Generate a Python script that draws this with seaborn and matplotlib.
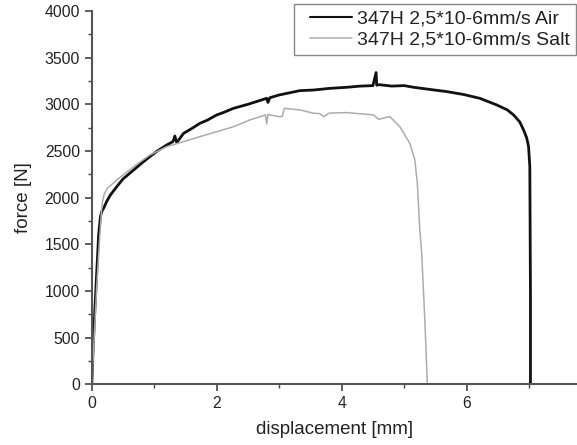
import matplotlib
matplotlib.use("Agg")
import matplotlib.pyplot as plt
import seaborn as sns
import pandas as pd
from matplotlib.ticker import MultipleLocator
from matplotlib.lines import Line2D
from matplotlib.legend_handler import HandlerLine2D

air_x = [0, 0.02, 0.05, 0.08, 0.11, 0.14, 0.16, 0.2, 0.24, 0.3, 0.4, 0.5, 0.67, 0.8,
         0.93, 1.05, 1.2, 1.3, 1.33, 1.36, 1.47, 1.6, 1.73, 1.85, 2.0, 2.1, 2.27, 2.5,
         2.8, 2.82, 2.85, 3.0, 3.33, 3.55, 3.8, 4.08, 4.3, 4.5, 4.55, 4.56, 4.6, 4.8,
         5.0, 5.15, 5.4, 5.68, 5.95, 6.21, 6.48, 6.65, 6.75, 6.85, 6.91, 6.96, 6.99,
         7.01, 7.02, 7.02]
air_y = [0, 350, 800, 1200, 1600, 1800, 1850, 1900, 1960, 2030, 2117, 2200, 2296, 2370,
         2439, 2500, 2564, 2600, 2660, 2590, 2689, 2740, 2796, 2830, 2886, 2910, 2957, 3000,
         3064, 3020, 3070, 3100, 3146, 3153, 3170, 3182, 3195, 3200, 3340, 3205, 3210, 3195,
         3200, 3182, 3160, 3136, 3105, 3064, 2993, 2940, 2886, 2810, 2725, 2640, 2546,
         2332, 1000, 0]

salt_x = [0, 0.02, 0.05, 0.08, 0.12, 0.15, 0.17, 0.2, 0.25, 0.4, 0.67, 0.93, 1.2, 1.47,
          1.73, 2.0, 2.27, 2.53, 2.78, 2.80, 2.82, 2.99, 3.05, 3.08, 3.33, 3.55, 3.65, 3.71,
          3.8, 4.08, 4.51, 4.59, 4.77, 4.93, 5.09, 5.17, 5.21, 5.25, 5.28, 5.33, 5.37]
salt_y = [0, 250, 650, 1050, 1500, 1800, 1950, 2040, 2100, 2189, 2332, 2457, 2546, 2600,
          2653, 2707, 2760, 2832, 2886, 2790, 2890, 2868, 2870, 2957, 2940, 2904, 2900, 2868,
          2905, 2911, 2886, 2839, 2868, 2760, 2582, 2403, 2154, 1653, 1403, 689, 0]

labels = ["347H 2,5*10-6mm/s Air", "347H 2,5*10-6mm/s Salt"]

df = pd.concat([
    pd.DataFrame({"x": air_x, "y": air_y, "series": labels[0]}),
    pd.DataFrame({"x": salt_x, "y": salt_y, "series": labels[1]}),
], ignore_index=True)

sns.set_style("ticks")
plt.rcParams['font.family'] = ['Liberation Sans', 'DejaVu Sans']

fig = plt.figure(figsize=(5.77, 4.45), dpi=100)
ax = fig.add_axes([0.159, 0.1364, 0.841, 0.839])

sns.lineplot(data=df, x="x", y="y", hue="series", sort=False, estimator=None,
             palette={labels[0]: "#111111", labels[1]: "#acacac"}, ax=ax, legend=False)
lines = ax.get_lines()
lines[0].set_linewidth(2.0)
lines[1].set_linewidth(1.1)

ax.set_xlim(0, 7.765)
ax.set_ylim(0, 4000)
ax.xaxis.set_major_locator(MultipleLocator(2))
ax.xaxis.set_minor_locator(MultipleLocator(1))
ax.yaxis.set_major_locator(MultipleLocator(500))
ax.yaxis.set_minor_locator(MultipleLocator(250))
ax.tick_params(which="major", direction="out", length=5, width=1.2, colors="#444444",
               labelsize=11.3, labelcolor="#222222")
ax.tick_params(which="minor", direction="out", length=3, width=1.0, colors="#444444")
for s in ["top", "right"]:
    ax.spines[s].set_visible(False)
for s in ["left", "bottom"]:
    ax.spines[s].set_color("#555555")
    ax.spines[s].set_linewidth(1.5)

ax.set_xlabel("displacement [mm]", fontsize=13.5, color="#222222", labelpad=7)
ax.set_ylabel("force [N]", fontsize=13.5, color="#222222", labelpad=9)


class LeftPadHandler(HandlerLine2D):
    def get_xdata(self, legend, xdescent, ydescent, width, height, fontsize):
        pad = 10 * 72 / 100.0  # points
        xdata = [-xdescent + pad, -xdescent + width]
        return xdata, [-xdescent + 0.5 * width]


handles = [Line2D([], [], color="#111111", lw=1.5), Line2D([], [], color="#acacac", lw=1.1)]
leg = fig.legend(handles, labels, loc="upper right", bbox_to_anchor=(0.998, 0.991),
                 fontsize=14, frameon=True, fancybox=False, framealpha=1,
                 edgecolor="#888888", handlelength=2.68, handletextpad=0.26,
                 borderpad=0.3, labelspacing=0.2, borderaxespad=0,
                 handler_map={Line2D: LeftPadHandler()})
leg.get_frame().set_linewidth(1.0)
for t in leg.get_texts():
    t.set_color("#222222")

fig.savefig("out.png", dpi=100)
